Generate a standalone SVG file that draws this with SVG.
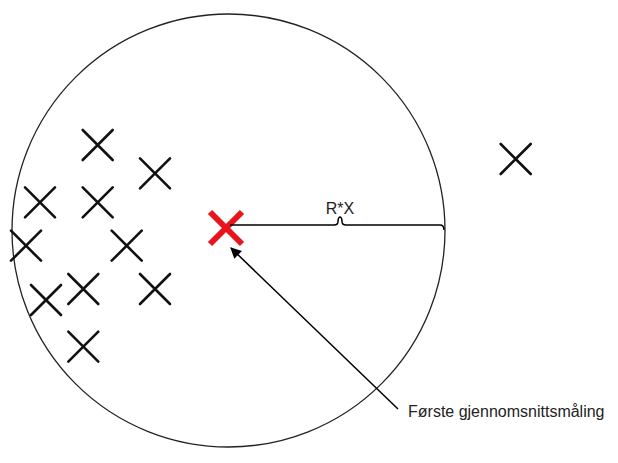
<svg xmlns="http://www.w3.org/2000/svg" width="618" height="463" viewBox="0 0 618 463">
<defs>
<style>
.x{stroke:#111;stroke-width:2.6;fill:none;stroke-linecap:round}
.rx{stroke:#e8141b;stroke-width:6;fill:none}
.ln{stroke:#000;stroke-width:1.5;fill:none}
.t{font-family:"Liberation Sans",Arial,sans-serif;font-size:16px;fill:#222}
</style>
<marker id="ah" viewBox="0 0 10 10" refX="9" refY="5" markerWidth="12" markerHeight="11" markerUnits="userSpaceOnUse" orient="auto">
<path d="M0,0 L10,5 L0,10 z" fill="#000"/>
</marker>
<path id="cr" d="M-15,-15 L15,15 M-15,15 L15,-15"/>
</defs>
<g id="circle"><circle cx="228.5" cy="230.5" r="216.5" fill="none" stroke="#222" stroke-width="1.3"/></g>
<g id="points" class="x">
<use href="#cr" x="97.7" y="145"/>
<use href="#cr" x="155" y="173.3"/>
<use href="#cr" x="40" y="202.3"/>
<use href="#cr" x="97.7" y="202.3"/>
<use href="#cr" x="26" y="245.7"/>
<use href="#cr" x="126.7" y="245.7"/>
<use href="#cr" x="46" y="300"/>
<use href="#cr" x="83.3" y="289"/>
<use href="#cr" x="155" y="289"/>
<use href="#cr" x="83.3" y="346.7"/>
<use href="#cr" x="515.7" y="159"/>
</g>
<g id="first-average"><path class="rx" d="M210,212 L242,244 M210,244 L242,212"/></g>
<g id="connectors">
<path class="ln" d="M230,225 L334,225 Q338,225 338,221.5 Q338,217.5 340,217 Q342,217.5 342,221.5 Q342,225 346,225 L440,225 Q444,225 444,230"/>
<path class="ln" stroke-width="2" d="M398,409 L231,248" marker-end="url(#ah)"/>
</g>
<g id="labels">
<text class="t" x="340" y="214" text-anchor="middle">R*X</text>
<text class="t" x="408" y="417">Første gjennomsnittsmåling</text>
</g>
</svg>
